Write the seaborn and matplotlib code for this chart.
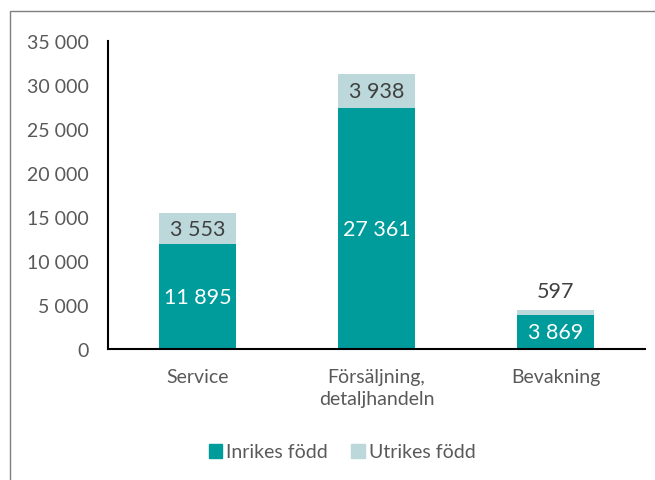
import matplotlib
matplotlib.use("Agg")
import matplotlib.pyplot as plt
import matplotlib.patches as mpatches
import seaborn as sns
import pandas as pd

categories = ["Service", "Försäljning,\ndetaljhandeln", "Bevakning"]
inrikes = [11895, 27361, 3869]
utrikes = [3553, 3938, 597]
yticks = [0, 5000, 10000, 15000, 20000, 25000, 30000, 35000]

teal = "#009B9B"
light = "#BCD8DB"
text_gray = "#595959"

sns.set_theme(style="white")
plt.rcParams["font.family"] = ["Lato", "DejaVu Sans"]

df = pd.DataFrame({"kategori": categories, "inrikes": inrikes, "utrikes": utrikes})
df["total"] = df["inrikes"] + df["utrikes"]

fig = plt.figure(figsize=(6.55, 4.81), dpi=100)
ax = fig.add_axes([108 / 655, 1 - 350 / 481, (645 - 108) / 655, (350 - 42) / 481])

sns.barplot(data=df, x="kategori", y="total", color=light, saturation=1,
            width=0.43, ax=ax, linewidth=0)
sns.barplot(data=df, x="kategori", y="inrikes", color=teal, saturation=1,
            width=0.43, ax=ax, linewidth=0)

ax.set_ylim(0, 35000)
ax.set_xlim(-0.5, 2.5)
ax.set_yticks(yticks)
ax.set_yticklabels([f"{v:,}".replace(",", " ") for v in yticks],
                   fontsize=14, color=text_gray)
ax.tick_params(axis="y", length=0, pad=14)
ax.tick_params(axis="x", length=0, pad=14, labelsize=14, labelcolor=text_gray)
for lbl in ax.get_xticklabels():
    lbl.set_linespacing(1.35)
ax.set_xlabel("")
ax.set_ylabel("")
for s in ["top", "right"]:
    ax.spines[s].set_visible(False)
for s in ["left", "bottom"]:
    ax.spines[s].set_color("black")
    ax.spines[s].set_linewidth(1.5)

def fmt(v):
    return f"{v:,}".replace(",", " ")

for i, (a, b) in enumerate(zip(inrikes, utrikes)):
    ax.text(i, a / 2, fmt(a), ha="center", va="center", color="white", fontsize=15.5)
    if b > 1500:
        ax.text(i, a + b / 2, fmt(b), ha="center", va="center", color="#404040", fontsize=15.5)
    else:
        ax.text(i, a + b + 1000, fmt(b), ha="center", va="bottom", color="#404040", fontsize=15.5)

handles = [mpatches.Patch(color=teal, label="Inrikes född"),
           mpatches.Patch(color=light, label="Utrikes född")]
fig.legend(handles=handles, loc="center", bbox_to_anchor=(342 / 655, 1 - 453 / 481),
           ncol=2, frameon=False, fontsize=14, handlelength=0.7, handleheight=0.7,
           handletextpad=0.2, columnspacing=1.2, labelcolor=text_gray)

border = mpatches.Rectangle((10 / 655, -0.1), 1.2, (481 - 12) / 481 + 0.1,
                            transform=fig.transFigure, fill=False,
                            edgecolor="#7f7f7f", linewidth=1)
fig.patches.append(border)

fig.savefig("out.png", dpi=100)
